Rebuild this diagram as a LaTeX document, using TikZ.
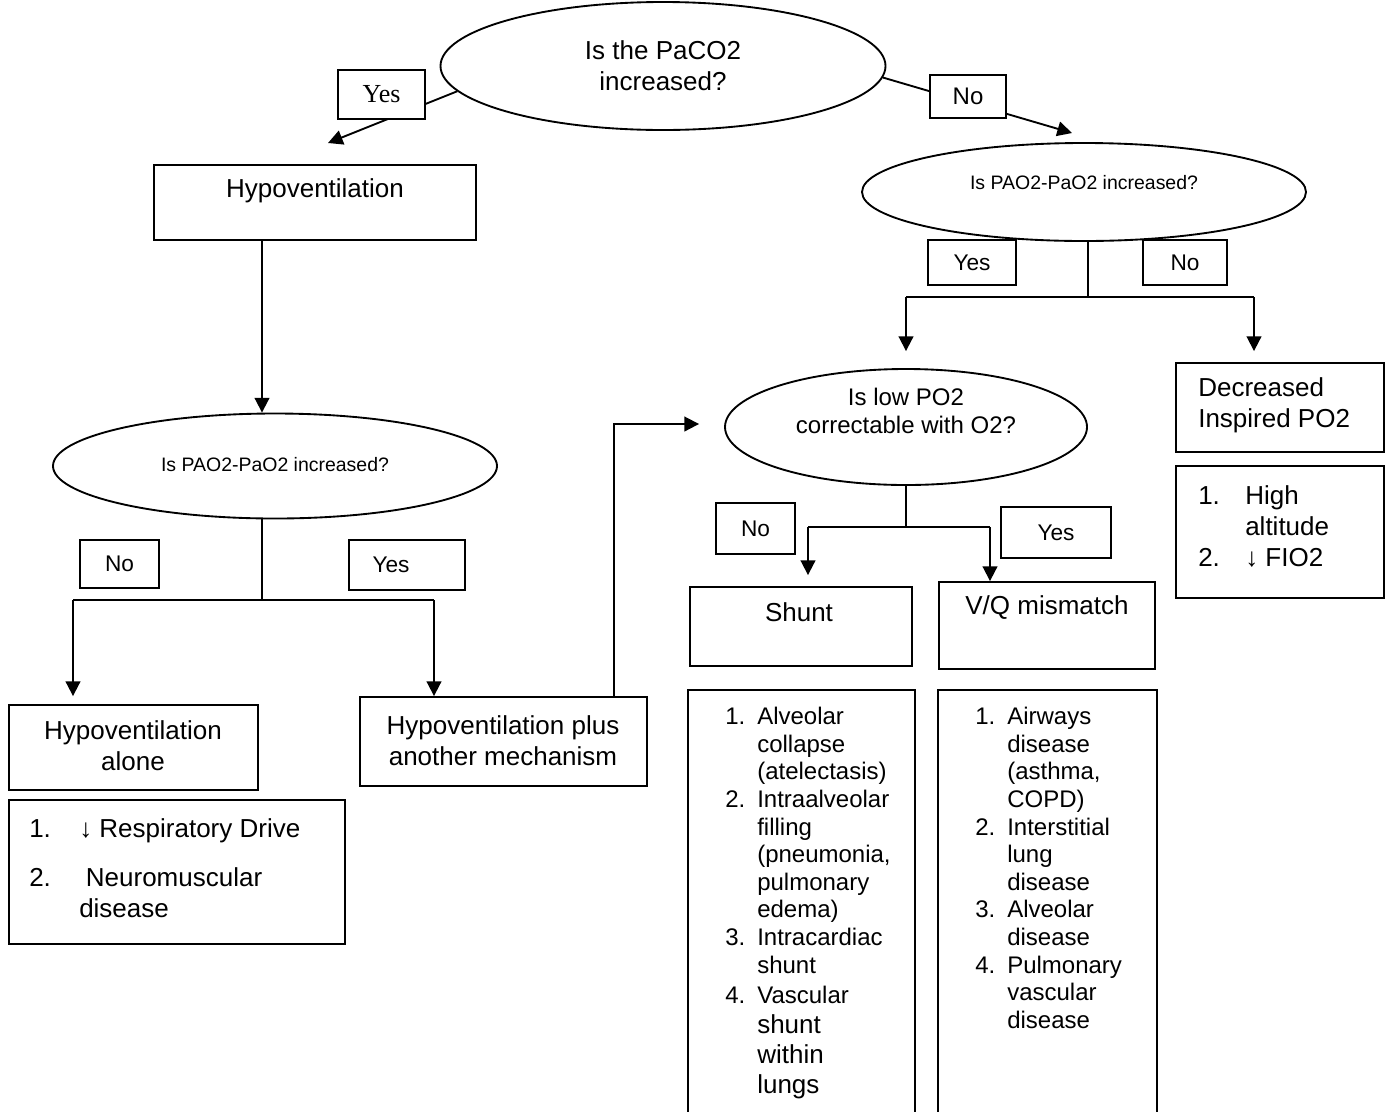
\documentclass[tikz,border=0pt]{standalone}
\usepackage{fontspec}
\setmainfont{Liberation Sans}
\newfontfamily\timesfont{Liberation Serif}
\usepackage{tikz}
\usetikzlibrary{shapes.geometric, arrows.meta, positioning, calc, fit}

\newcommand{\lnum}[2][24pt]{\makebox[#1][l]{#2}}
\newcommand{\lpad}[1][24pt]{\hspace*{#1}}
\newcommand{\bigsz}{\fontsize{19.5}{23.25}\selectfont}

\begin{document}
\begin{tikzpicture}[
            x=0.75pt, y=-0.75pt,
            box/.style={draw=black, line width=1.4pt, inner sep=0pt, fill=white},
            oval/.style={box, ellipse},
            choice/.style={box, font=\fontsize{17}{20}\selectfont},
            bigtxt/.style={font=\bigsz, align=center, inner sep=0pt},
            midtxt/.style={font=\fontsize{18}{21}\selectfont, align=center, inner sep=0pt},
            smalltxt/.style={font=\fontsize{14.6}{17.5}\selectfont, inner sep=0pt},
            itemlist/.style={font=\fontsize{18}{20.7}\selectfont, align=left, inner sep=0pt, anchor=north west},
            biglist/.style={itemlist, font=\bigsz},
            connector/.style={line width=1.4pt},
            flow/.style={connector, -{Triangle[width=11pt, length=11pt]}}
        ]
        \useasboundingbox (0,0) rectangle (1391,1111);

        % Question ovals
        \node[oval, minimum width=333.75pt, minimum height=96pt] (paco2) at (663,66) {};
        \node[oval, minimum width=333pt, minimum height=73.5pt] (gradR) at (1084,192) {};
        \node[oval, minimum width=333pt, minimum height=78.75pt] (gradL) at (275,466) {};
        \node[oval, minimum width=271.5pt, minimum height=87pt] (fixO2) at (906,427) {};
        \node[bigtxt] (paco2 txt) at (663,66) {Is the PaCO2\\increased?};
        \node[smalltxt] (gradR txt) at (1084,183) {Is PAO2-PaO2 increased?};
        \node[smalltxt] (gradL txt) at (275,465) {Is PAO2-PaO2 increased?};
        \node[midtxt] (fixO2 txt) at (906,411) {Is low PO2\\correctable with O2?};

        % Boxes
        \foreach \nm/\xa/\ya/\xb/\yb in {hypo/154/165/476/240, alone/9/705/258/790, alonelist/9/800/345/944,
                plus/360/697/647/786, shunt/690/587/912/666, vq/939/582/1155/669,
                shuntlist/688/690/915/1130, vqlist/938/690/1157/1130,
                dec/1176/363/1384/452, declist/1176/466/1384/598}
            \node[box, fit={(\xa,\ya) (\xb,\yb)}] (\nm) {};

        \node[bigtxt] (hypo txt) at (315,191) {Hypoventilation};
        \node[bigtxt] (alone txt) at (133,746) {Hypoventilation\\alone};
        \node[bigtxt] (plus txt) at (503,741) {Hypoventilation plus\\another mechanism};
        \node[bigtxt] (shunt txt) at (799,612) {Shunt};
        \node[bigtxt] (vq txt) at (1047,608) {V/Q mismatch};
        \node[bigtxt, align=left, anchor=west] (dec txt) at (1198,405) {Decreased\\Inspired PO2};

        % Causes
        \node[biglist] (alone items) at (29,818) {%
            \lnum[37.5pt]{1.}↓ Respiratory Drive\\[13.5pt]
            \lnum[37.5pt]{2.}\hspace{5pt}Neuromuscular\\
            \lpad[37.5pt]disease};
        \node[biglist] (dec items) at (1198,485) {%
            \lnum[35.25pt]{1.}High\\
            \lpad[35.25pt]altitude\\
            \lnum[35.25pt]{2.}↓ FIO2};
        \node[itemlist] (shunt items) at (725,707) {%
            \lnum{1.}Alveolar\\
            \lpad collapse\\
            \lpad (atelectasis)\\
            \lnum{2.}Intraalveolar\\
            \lpad filling\\
            \lpad (pneumonia,\\
            \lpad pulmonary\\
            \lpad edema)\\
            \lnum{3.}Intracardiac\\
            \lpad shunt\\[1.8pt]
            \lnum{4.}Vascular\\[1.8pt]
            \lpad{\bigsz shunt}\\[1.8pt]
            \lpad{\bigsz within}\\[1.8pt]
            \lpad{\bigsz lungs}};
        \node[itemlist] (vq items) at (975,707) {%
            \lnum{1.}Airways\\
            \lpad disease\\
            \lpad (asthma,\\
            \lpad COPD)\\
            \lnum{2.}Interstitial\\
            \lpad lung\\
            \lpad disease\\
            \lnum{3.}Alveolar\\
            \lpad disease\\
            \lnum{4.}Pulmonary\\
            \lpad vascular\\
            \lpad disease};

        % Connections from the first question
        \coordinate (yes tip) at (328,143);
        \coordinate (no tip) at (1072,133);
        \draw[flow] (paco2.187) -- (yes tip);
        \draw[flow] (paco2.-3) -- (no tip);

        % Connections hypoventilation branch
        \coordinate (j2) at (262,600);
        \coordinate (j2l) at (73,600);
        \coordinate (j2r) at (434,600);
        \coordinate (bend) at (614,424);
        \draw[flow] (hypo.south -| j2) -- (gradL.north -| j2);
        \draw[connector] (gradL.south -| j2) -- (j2);
        \draw[connector] (j2l) -- (j2r);
        \draw[flow, shorten >=6pt] (j2l) -- (alone.north -| j2l);
        \draw[flow] (j2r) -- (plus.north -| j2r);
        \draw[flow, shorten >=18.75pt] (plus.north -| bend) -- (bend) -- (bend -| fixO2.west);

        % Connections normal PaCO2 branch
        \coordinate (j4) at (1088,297);
        \coordinate (j4l) at (906,297);
        \coordinate (j4r) at (1254,297);
        \draw[connector] (gradR.south -| j4) -- (j4);
        \draw[connector] (j4l) -- (j4r);
        \draw[flow, shorten >=12.75pt] (j4l) -- (fixO2.north -| j4l);
        \draw[flow, shorten >=8.25pt] (j4r) -- (dec.north -| j4r);

        % Connections O2 question
        \coordinate (j3) at (906,527);
        \coordinate (j3l) at (808,527);
        \coordinate (j3r) at (990,527);
        \draw[connector] (fixO2.south) -- (j3);
        \draw[connector] (j3l) -- (j3r);
        \draw[flow, shorten >=8.25pt] (j3l) -- (shunt.north -| j3l);
        \draw[flow] (j3r) -- (vq.north -| j3r);

        % Yes / No labels
        \node[box, font=\timesfont\fontsize{19.5}{22}\selectfont, minimum width=65.25pt, minimum height=36.75pt] (yes1) at (381.5,94.5) {Yes};
        \node[box, font=\fontsize{18}{21}\selectfont, minimum width=57pt, minimum height=32.25pt] (no1) at (968,96.5) {No};
        \foreach \nm/\xa/\ya/\xb/\yb/\txt in {yes2/928/240/1016/285/Yes, no2/1143/240/1227/285/No,
                no3/80/540/159/588/No, yes3/349/540/465/590/Yes\kern24pt,
                no4/716/503/795/554/No, yes4/1001/507/1111/558/Yes}
            \node[choice, minimum width=(\xb-\xa)*0.75pt, minimum height=(\yb-\ya)*0.75pt]
                (\nm) at ({(\xa+\xb)/2},{(\ya+\yb)/2}) {\txt};
\end{tikzpicture}
\end{document}
